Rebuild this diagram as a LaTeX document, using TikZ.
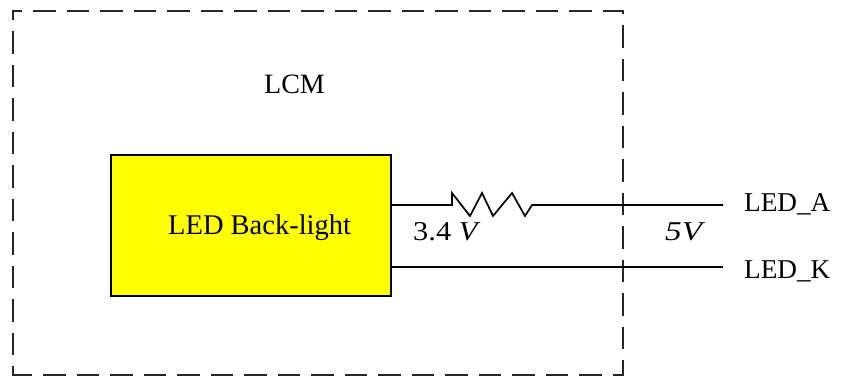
\documentclass[tikz,border=0pt]{standalone}
\usepackage{fontspec}
\setmainfont{Liberation Serif}
\definecolor{ledyellow}{RGB}{255,255,0}
\tikzset{
 px/.style={x=1pt,y=-1pt},
 wire/.style={draw=black,line width=1.7pt},
 lbl/.style={font=\fontsize{27.2}{30}\selectfont,inner sep=0pt,text=black},
 frame/.style={draw=black!85,line width=1.9pt,line cap=rect},
 dashes/.style={dash pattern=on 20.5pt off 13pt,dash phase=#1},
 led/.style={draw=black,line width=1.7pt,fill=ledyellow,minimum width=280pt,minimum height=141pt,inner sep=0pt}
}
\begin{document}
\begin{tikzpicture}[px]
\useasboundingbox (0,0) rectangle (842,376);
\node[minimum width=610pt,minimum height=364pt,inner sep=0pt] (lcm) at (318,193) {};
\draw[frame,dashes=12pt] (lcm.north west) -- (lcm.north east);
\draw[frame,dashes=12pt] (lcm.north west) -- (lcm.south west);
\draw[frame,dashes=18pt] (lcm.north east) -- (lcm.south east);
\draw[frame,dashes=2pt] (lcm.south west) -- (lcm.south east);
\node[led] (led) at (251,225.5) {};
\node[lbl,font=\fontsize{28.5}{30}\selectfont,anchor=base west] (ledt) at (168,234) {LED Back-light};
\node[lbl,font=\fontsize{28}{30}\selectfont,anchor=base west] (lcmt) at (264,93) {LCM};
\coordinate (a1) at (391,205);
\coordinate (k1) at (391,267);
\node[lbl,anchor=base west] (ledaT) at (744,211) {LED\_A};
\node[lbl,anchor=base west] (ledkT) at (744,278) {LED\_K};
\coordinate (a2) at (723,205);
\coordinate (k2) at (723,267);
\draw[wire] (a1) -- (452,205) -- (452,193) -- (470,216) -- (482,193) -- (493,216) -- (512,193) -- (525,216) -- (532,205) -- (a2);
\draw[wire] (k1) -- (k2);
\node[lbl,anchor=base west] (v1) at (413,240) {\scalebox{1.12}[1]{3.4 \textit{V}}};
\node[lbl,anchor=base west] (v2) at (665,240) {\scalebox{1.22}[1]{\itshape 5V}};
\end{tikzpicture}
\end{document}
